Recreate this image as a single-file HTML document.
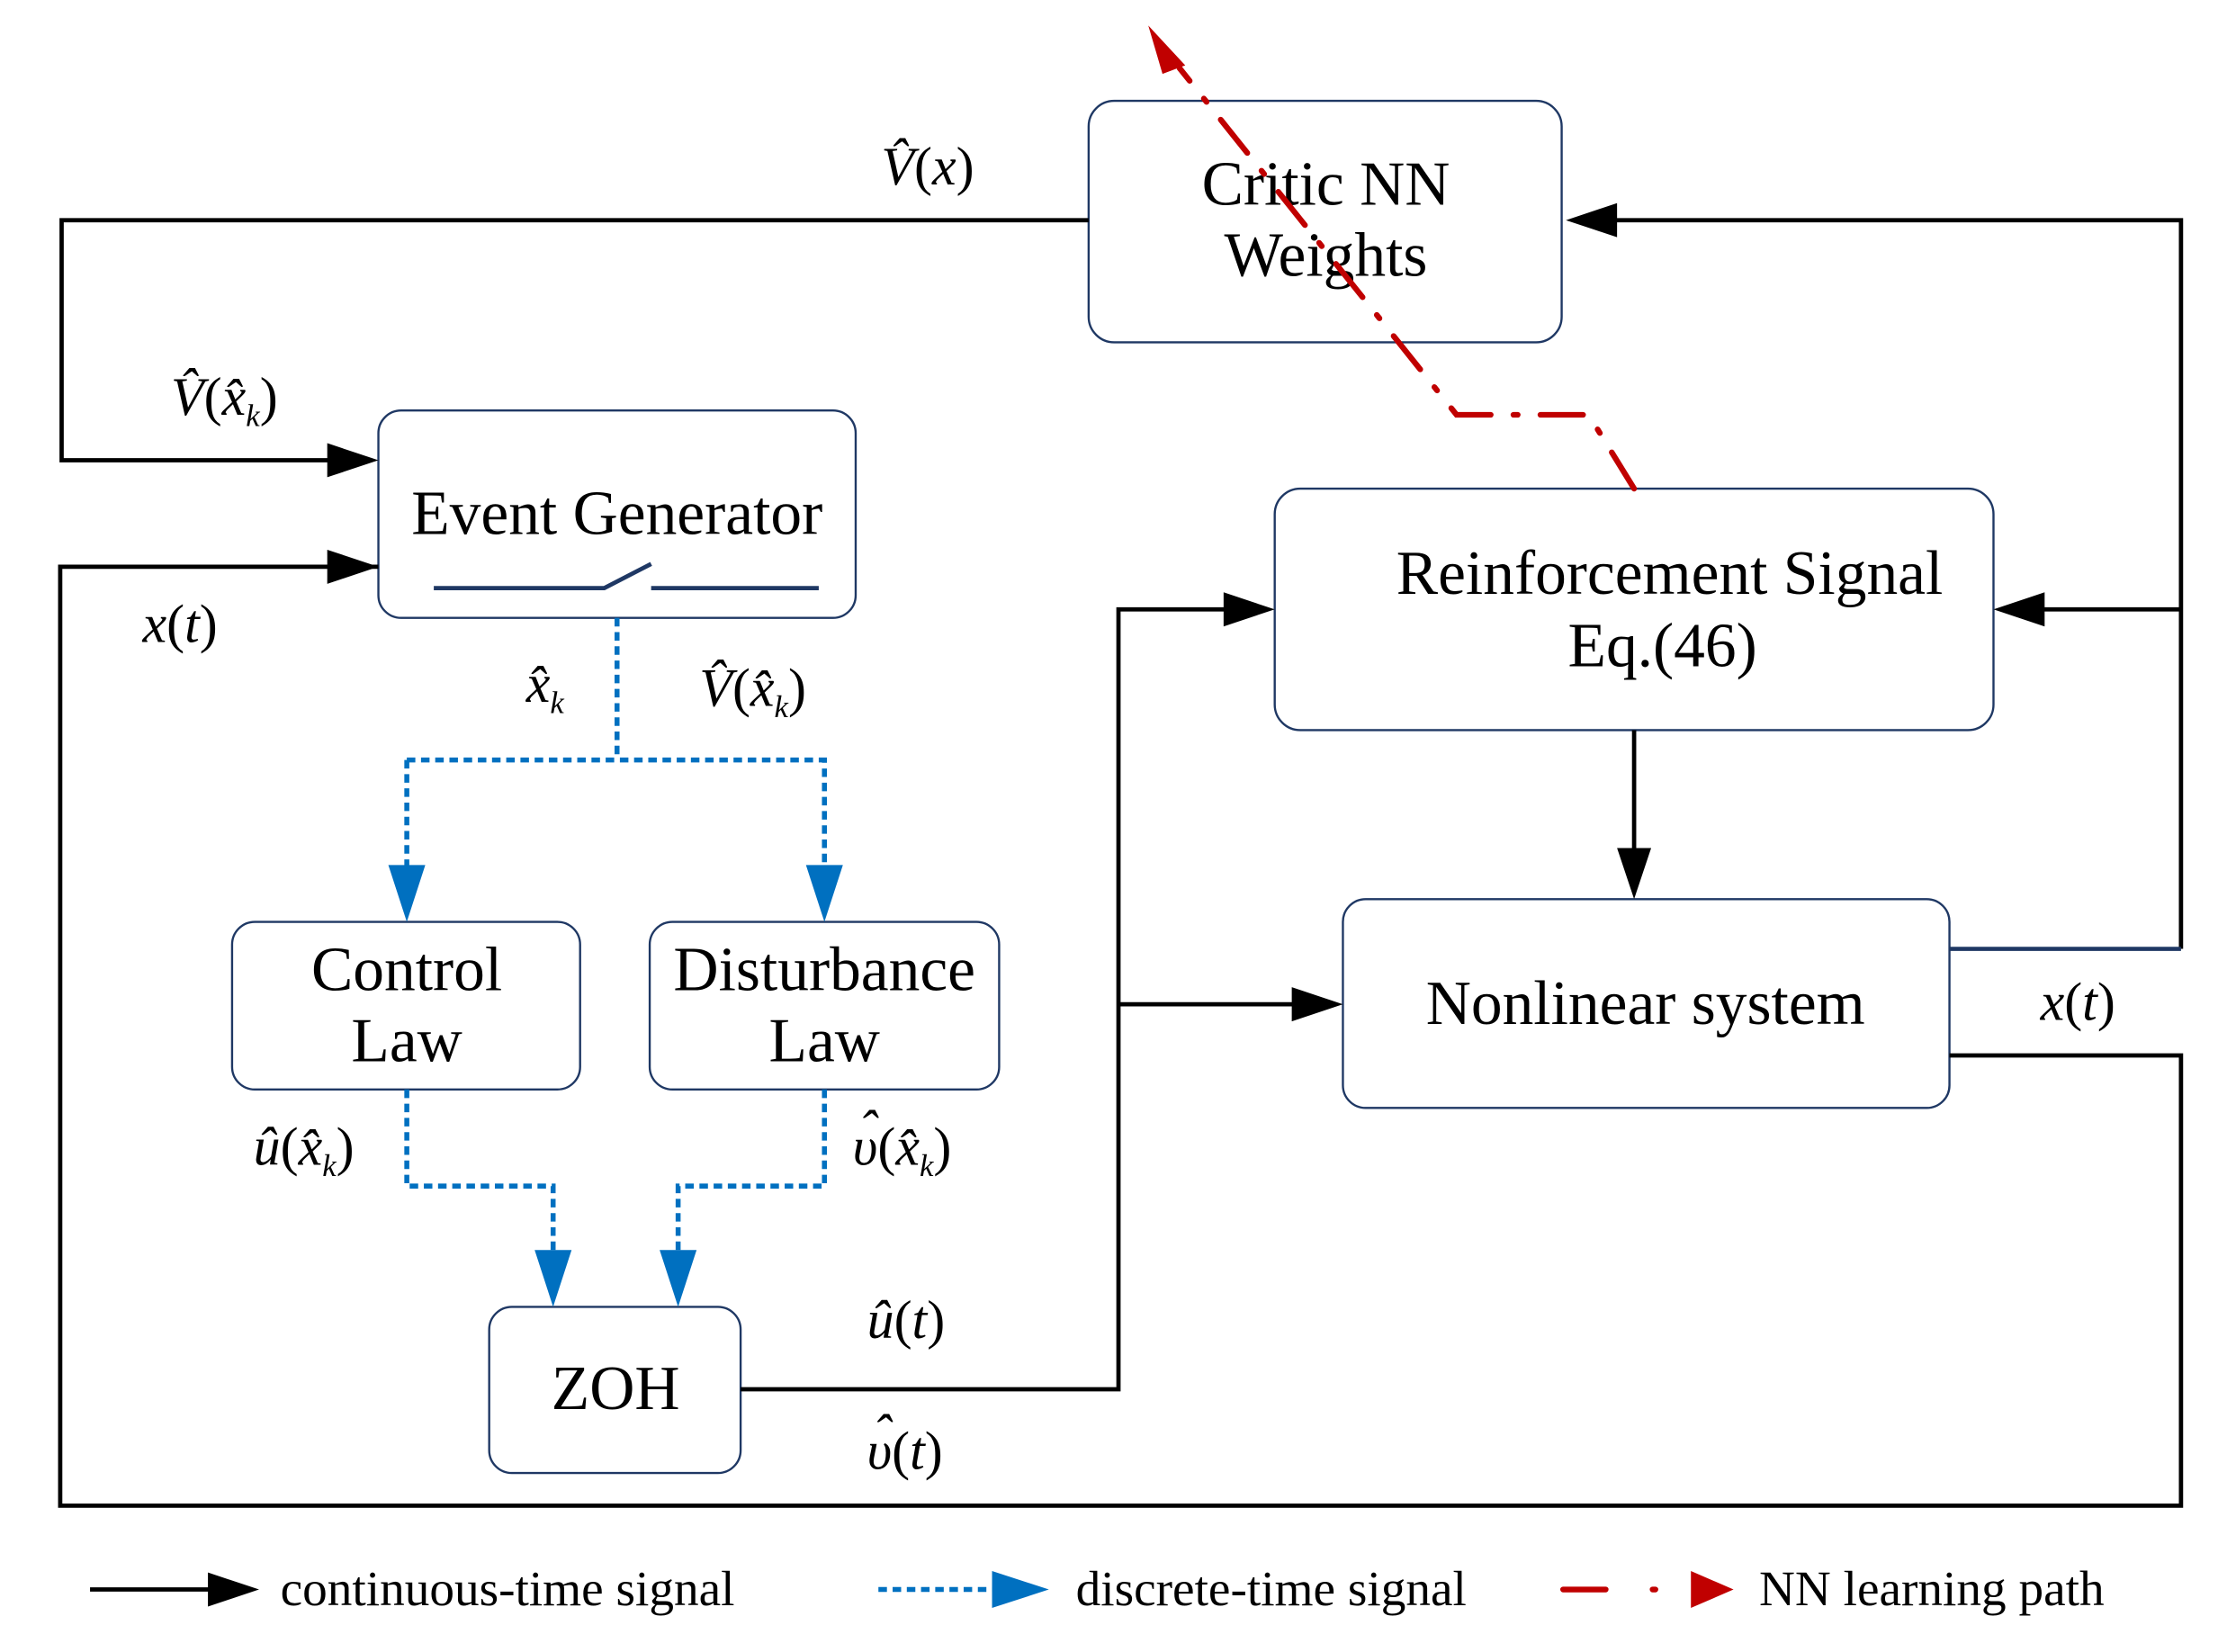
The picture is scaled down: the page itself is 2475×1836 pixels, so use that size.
<!DOCTYPE html>
<html><head><meta charset="utf-8"><style>
html,body{margin:0;padding:0;background:#fff;}
svg{display:block;}
text{font-family:"Liberation Serif",serif;fill:#000;}
.b{font-size:44px;text-anchor:middle;}
.m{font-size:38px;font-style:italic;}
.u{font-style:normal;}
</style></head><body>
<svg width="2475" height="1836" viewBox="0 0 1567 1163" xmlns="http://www.w3.org/2000/svg">
<g fill="#fff" stroke="#1f3864" stroke-width="1.5">
<rect x="766" y="71" width="333" height="170" rx="18"/>
<rect x="266" y="289" width="336" height="146" rx="16"/>
<rect x="897" y="344" width="506" height="170" rx="18"/>
<rect x="945" y="633" width="427" height="147" rx="16"/>
<rect x="163" y="649" width="245" height="118" rx="16"/>
<rect x="457" y="649" width="246" height="118" rx="16"/>
<rect x="344" y="920" width="177" height="117" rx="16"/>
</g>
<text class="b" x="933" y="144">Critic NN</text>
<text class="b" x="933" y="194">Weights</text>
<text class="b" x="434" y="376">Event Generator</text>
<text class="b" x="1175" y="418">Reinforcement Signal</text>
<text class="b" x="1170" y="469">Eq.(46)</text>
<text class="b" x="1158" y="721">Nonlinear system</text>
<text class="b" x="286" y="697">Control</text>
<text class="b" x="286" y="747">Law</text>
<text class="b" x="580" y="697">Disturbance</text>
<text class="b" x="580" y="747">Law</text>
<text class="b" x="433" y="992">ZOH</text>
<path d="M305,414 H425 L458,397 M458,414 H576" stroke="#1f3864" stroke-width="3" fill="none"/>
<g stroke="#000" stroke-width="3" fill="none">
<path d="M766,155 H43 V324 H250"/>
<path d="M266,399 H42 V1060 H1535 V743 H1372" />
<path d="M1535,668 V155 H1118"/>
<path d="M1535,429 H1420"/>
<path d="M521,978 H787 V429 H880"/>
<path d="M787,707 H928"/>
<path d="M1150,514 V616"/>
<path d="M63,1119 H150"/>
</g>
<path d="M1372,668 H1535" stroke="#1f3864" stroke-width="3"/>
<g fill="#000">
<path d="M266,324 L230,312 V336z"/>
<path d="M266,399 L230,387 V411z"/>
<path d="M1102,155 L1138,143 V167z"/>
<path d="M1403,429 L1439,417 V441z"/>
<path d="M897,429 L861,417 V441z"/>
<path d="M945,707 L909,695 V719z"/>
<path d="M1150,633 L1138,597 H1162z"/>
<path d="M182,1119 L146,1107 V1131z"/>
</g>
<g stroke="#0070c0" stroke-width="3.5" fill="none" stroke-dasharray="6,4">
<path d="M434,435 V535 M286,535 H580 V612 M286,535 V612"/>
<path d="M286,767 V835 H389 V882 M580,767 V835 H477 V882"/>
<path d="M618,1119 H700"/>
</g>
<g fill="#0070c0">
<path d="M286,649 L273,609 H299z"/>
<path d="M580,649 L567,609 H593z"/>
<path d="M389,920 L376,880 H402z"/>
<path d="M477,920 L464,880 H490z"/>
<path d="M738,1119 L698,1106 V1132z"/>
</g>
<g stroke="#c00000" stroke-width="4" fill="none" stroke-dasharray="30,16,3,16" stroke-linecap="round">
<path d="M1150,344 L1118,292 H1025 L830,48"/>
<path d="M1100,1119 H1145 M1163,1119 H1165"/>
</g>
<path d="M808,18 L834,46 L818,52z" fill="#c00000"/>
<path d="M1220,1119 L1190,1106 V1132z" fill="#c00000"/>
<text class="m" x="620" y="130">V̂<tspan class="u">(</tspan>x<tspan class="u">)</tspan></text>
<text class="m" x="120" y="292">V̂<tspan class="u">(</tspan>x̂<tspan font-size="22" dy="8">k</tspan><tspan class="u" dy="-8">)</tspan></text>
<text class="m" x="100" y="452"><tspan>x</tspan><tspan class="u">(</tspan>t<tspan class="u">)</tspan></text>
<text class="m" x="370" y="494">x̂<tspan font-size="22" dy="8">k</tspan></text>
<text class="m" x="492" y="497">V̂<tspan class="u">(</tspan>x̂<tspan font-size="22" dy="8">k</tspan><tspan class="u" dy="-8">)</tspan></text>
<text class="m" x="178" y="820">û<tspan class="u">(</tspan>x̂<tspan font-size="22" dy="8">k</tspan><tspan class="u" dy="-8">)</tspan></text>
<text class="m" x="600" y="820">υ<tspan class="u">(</tspan>x̂<tspan font-size="22" dy="8">k</tspan><tspan class="u" dy="-8">)</tspan></text>
<text class="m" x="604" y="808">ˆ</text>
<text class="m" x="610" y="942">û<tspan class="u">(</tspan>t<tspan class="u">)</tspan></text>
<text class="m" x="610" y="1034">υ<tspan class="u">(</tspan>t<tspan class="u">)</tspan></text>
<text class="m" x="614" y="1022">ˆ</text>
<text class="m" x="1436" y="718">x<tspan class="u">(</tspan>t<tspan class="u">)</tspan></text>
<text x="197" y="1130" font-size="35">continuous-time signal</text>
<text x="757" y="1130" font-size="35">discrete-time signal</text>
<text x="1238" y="1130" font-size="35">NN learning path</text>
</svg>
</body></html>
